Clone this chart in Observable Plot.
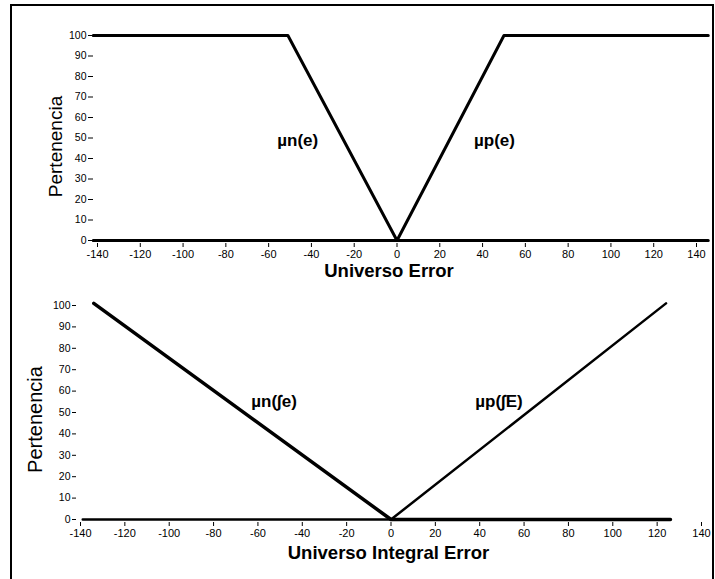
<!DOCTYPE html>
<html>
<head>
<meta charset="utf-8">
<script src="https://cdn.jsdelivr.net/npm/d3@7"></script>
<script src="https://cdn.jsdelivr.net/npm/@observablehq/plot@0.6"></script>
<style>
  html, body { margin: 0; padding: 0; background: #fff; overflow: hidden; width: 715px; height: 579px; }
  #frame { position: absolute; left: 10px; top: 4px; width: 700px; height: 600px; border: 2px solid #000; border-bottom: none; }
  #top { position: absolute; left: 0; top: 0; }
  #bottom { position: absolute; left: 0; top: 280px; }
</style>
</head>
<body>
<div id="frame"></div>
<div id="top"></div>
<div id="bottom"></div>
<script>
// ---- Top chart: Universo Error ----
const errX_mun = [-142, -51, 0, 145.5];
const errY_mun = [100, 100, 0, 0];
const errX_mup = [-142, 0, 50, 145.5];
const errY_mup = [0, 0, 100, 100];
const errLabels = ["µn(e)", "µp(e)"];
const errLabelX = [-56, 36];
const errLabelY = [49, 49];

// ---- Bottom chart: Universo Integral Error ----
const intX_mun = [-134, 0, 126];
const intY_mun = [101, 0, 0];
const intX_mup = [-139, 0, 124];
const intY_mup = [0, 0, 101];
const intLabels = ["µn(∫e)", "µp(∫E)"];
const intLabelX = [-63, 38];
const intLabelY = [55, 55];

// ---- Ticks ----
const xTicks = [-140, -120, -100, -80, -60, -40, -20, 0, 20, 40, 60, 80, 100, 120, 140];
const yTicks = [0, 10, 20, 30, 40, 50, 60, 70, 80, 90, 100];

const toPts = (xs, ys) => xs.map((x, i) => ({x, y: ys[i]}));
const toLabels = (t, xs, ys) => t.map((s, i) => ({text: s, x: xs[i], y: ys[i]}));
const fmt = d => String(d);

function chart(opts) {
  return Plot.plot({
    width: 715,
    height: opts.height,
    marginLeft: opts.ml,
    marginRight: opts.mr,
    marginTop: opts.mt,
    marginBottom: opts.mb,
    style: {fontFamily: "'Liberation Sans', Arial, sans-serif", fontSize: "11px", background: "transparent", color: "#000", overflow: "visible"},
    x: {domain: [-140, 140]},
    y: {domain: [0, 100]},
    marks: [
      Plot.axisX({ticks: xTicks, tickFormat: fmt, tickSize: 4, tickPadding: 3, dy: 3, label: null, fontSize: 11}),
      Plot.axisY({ticks: yTicks, tickFormat: fmt, tickSize: opts.yTickSize, tickPadding: 2, dx: -4, label: null, fontSize: 10.5}),
      Plot.line(opts.mun, {x: "x", y: "y", stroke: "#000", strokeWidth: opts.swN, strokeLinejoin: "round"}),
      Plot.line(opts.mup, {x: "x", y: "y", stroke: "#000", strokeWidth: opts.swP, strokeLinejoin: "round"}),
      Plot.text(opts.labels, {x: "x", y: "y", text: "text", textAnchor: "start", fontWeight: "bold", fontSize: 17, fill: "#000"}),
      Plot.text([opts.xTitle], {frameAnchor: "bottom", textAnchor: "middle", lineAnchor: "middle", dx: opts.xdx, dy: opts.xdy, fontWeight: "bold", fontSize: 18.5, fill: "#000"}),
      Plot.text(["Pertenencia"], {frameAnchor: "left", textAnchor: "middle", rotate: -90, lineAnchor: "middle", dx: opts.ydx, dy: opts.ydy, fontSize: opts.yfs, fill: "#000"})
    ]
  });
}

document.getElementById("top").append(chart({
  height: 280, ml: 97, mr: 19, mt: 35, mb: 40, yTickSize: 5,
  mun: toPts(errX_mun, errY_mun), mup: toPts(errX_mup, errY_mup),
  labels: toLabels(errLabels, errLabelX, errLabelY),
  swN: 3, swP: 3,
  xTitle: "Universo Error", xdx: -8, xdy: 30.5,
  ydx: -41.5, ydy: 8.5, yfs: 19
}));

document.getElementById("bottom").append(chart({
  height: 299, ml: 80, mr: 14, mt: 25, mb: 60, yTickSize: 4,
  mun: toPts(intX_mun, intY_mun), mup: toPts(intX_mup, intY_mup),
  labels: toLabels(intLabels, intLabelX, intLabelY),
  swN: 3.5, swP: 2.5,
  xTitle: "Universo Integral Error", xdx: -2.5, xdy: 33.5,
  ydx: -44.5, ydy: 7, yfs: 20
}));
</script>
</body>
</html>
